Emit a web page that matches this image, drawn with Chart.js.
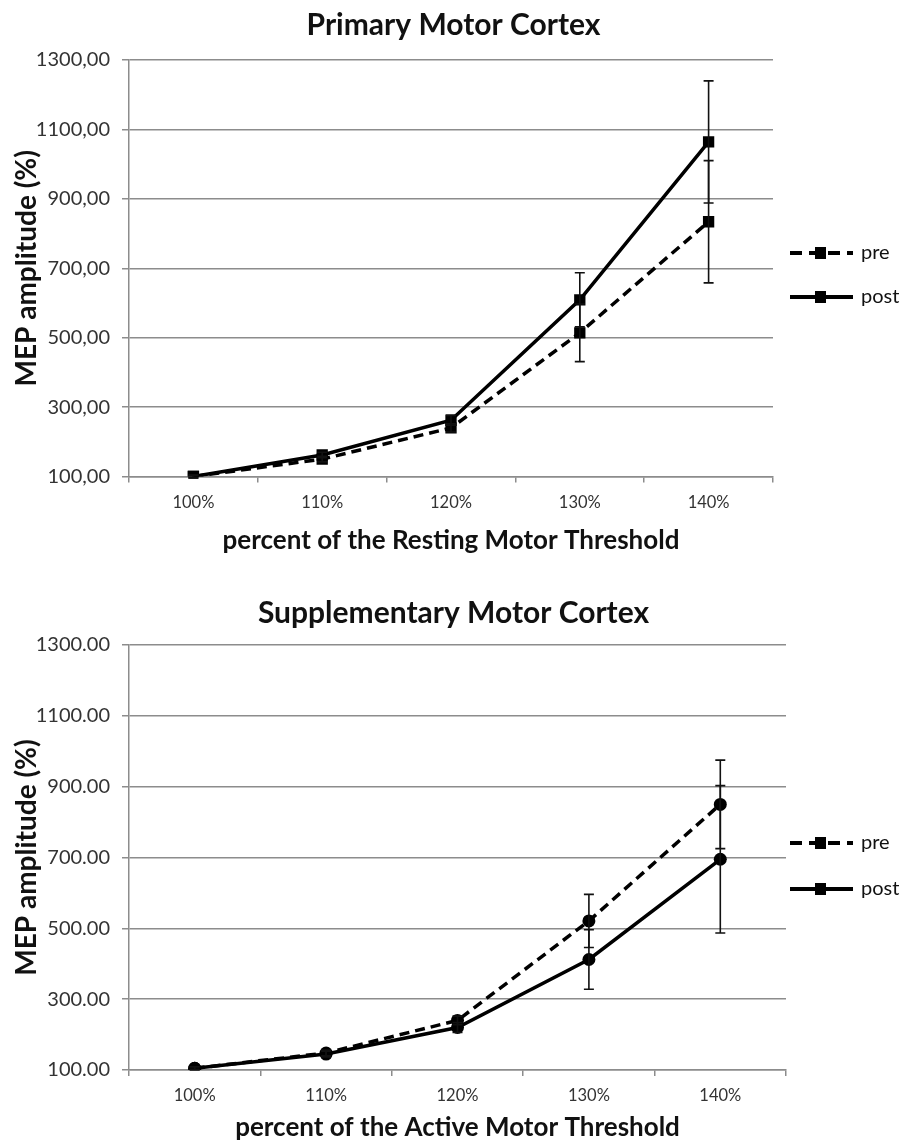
<!DOCTYPE html>
<html>
<head>
<meta charset="utf-8">
<script src="https://cdn.jsdelivr.net/npm/chart.js@4"></script>
<style>
  html, body { margin: 0; padding: 0; background: #fff; overflow: hidden; }
  .box { position: relative; width: 907px; height: 572px; }
</style>
</head>
<body>
<div class="box"><canvas id="primaryChart"></canvas></div>
<div class="box"><canvas id="suppChart"></canvas></div>
<script>
const labels = ['100%', '110%', '120%', '130%', '140%'];

// Primary Motor Cortex
const m1Pre = [100, 150, 240, 514, 834];
const m1PreErr = [4, 8, 12, 83, 176];
const m1Post = [100, 162, 262, 609, 1064];
const m1PostErr = [4, 8, 14, 78, 176];

// Supplementary Motor Cortex
const smaPre = [105, 148, 240, 521, 850];
const smaPreErr = [4, 8, 12, 75, 125];
const smaPost = [105, 145, 220, 412, 695];
const smaPostErr = [4, 8, 14, 84, 208];

const yTicks = [100, 300, 500, 700, 900, 1100, 1300];

const fontFam = "Lato, 'Open Sans', sans-serif";
const gridGray = '#8c8c8c';

// draws the +/- error bars from each dataset's err array
const errorBars = {
    id: 'errorBars',
    afterDatasetsDraw(chart) {
        const ctx = chart.ctx;
        const y = chart.scales.y;
        ctx.save();
        ctx.strokeStyle = '#111';
        ctx.lineWidth = 1.6;
        chart.data.datasets.forEach((ds, i) => {
            const meta = chart.getDatasetMeta(i);
            meta.data.forEach((pt, j) => {
                const v = ds.data[j];
                const e = ds.err[j];
                const top = y.getPixelForValue(v + e);
                const bot = y.getPixelForValue(v - e);
                ctx.beginPath();
                ctx.moveTo(pt.x, top);
                ctx.lineTo(pt.x, bot);
                ctx.moveTo(pt.x - 5, top);
                ctx.lineTo(pt.x + 5, top);
                ctx.moveTo(pt.x - 5, bot);
                ctx.lineTo(pt.x + 5, bot);
                ctx.stroke();
            });
        });
        ctx.restore();
    }
};

// legend on the right: line with square marker, then the label
const sideLegend = {
    id: 'sideLegend',
    afterDraw(chart, args, opts) {
        const ctx = chart.ctx;
        ctx.save();
        chart.data.datasets.forEach((ds, i) => {
            const yy = opts.rows[i];
            ctx.strokeStyle = '#000';
            ctx.lineWidth = 4;
            ctx.setLineDash(ds.borderDash ? [12, 7] : []);
            ctx.beginPath();
            ctx.moveTo(790, yy);
            ctx.lineTo(853, yy);
            ctx.stroke();
            ctx.setLineDash([]);
            ctx.fillStyle = '#000';
            ctx.fillRect(815, yy - 6, 11, 12);
            ctx.font = '20px ' + fontFam;
            ctx.textBaseline = 'middle';
            ctx.fillStyle = '#111';
            ctx.fillText(ds.label, 861, yy);
        });
        ctx.restore();
    }
};

function makeChart(id, cfg) {
    const ctx = document.getElementById(id).getContext('2d');
    return new Chart(ctx, {
        type: 'line',
        data: {
            labels: labels,
            datasets: [{
                label: 'pre',
                data: cfg.pre,
                err: cfg.preErr,
                borderColor: '#000',
                backgroundColor: '#000',
                borderWidth: 3.5,
                borderDash: [10, 6],
                pointStyle: cfg.marker,
                pointRadius: cfg.radius,
                pointBorderWidth: 0,
                fill: false
            }, {
                label: 'post',
                data: cfg.post,
                err: cfg.postErr,
                borderColor: '#000',
                backgroundColor: '#000',
                borderWidth: 3.5,
                pointStyle: cfg.marker,
                pointRadius: cfg.radius,
                pointBorderWidth: 0,
                fill: false
            }]
        },
        options: {
            responsive: true,
            maintainAspectRatio: false,
            animation: false,
            layout: { padding: 0 },
            plugins: {
                legend: { display: false },
                tooltip: { enabled: false },
                title: {
                    display: true,
                    text: cfg.title,
                    color: '#111',
                    font: { family: fontFam, size: 30, weight: 'bold', lineHeight: 1.2 },
                    padding: { top: cfg.titleTop, bottom: cfg.top - cfg.titleTop - 36 }
                },
                sideLegend: { rows: cfg.legendRows }
            },
            scales: {
                x: {
                    offset: true,
                    grid: { display: true, offset: true, drawOnChartArea: false, drawTicks: true, tickLength: 6, color: gridGray, lineWidth: 1.5 },
                    border: { color: gridGray, width: 1.5 },
                    ticks: { color: '#333', font: { family: fontFam, size: 16.5 }, padding: 10, maxRotation: 0 },
                    title: {
                        display: true,
                        text: cfg.xTitle,
                        color: '#111',
                        font: { family: fontFam, size: 26, weight: 'bold', lineHeight: 1.2 },
                        padding: { top: 0, bottom: cfg.xTitleBottom }
                    },
                    afterFit(scale) { scale.height = 572 - cfg.bottom; }
                },
                y: {
                    min: 100,
                    max: 1300,
                    afterBuildTicks(scale) { scale.ticks = yTicks.map(v => ({ value: v })); },
                    grid: { color: gridGray, lineWidth: 1.5, tickLength: 7 },
                    border: { color: gridGray, width: 1.5 },
                    ticks: {
                        color: '#333',
                        font: { family: fontFam, size: 20 },
                        padding: 12,
                        callback: v => cfg.fmt(v)
                    },
                    title: {
                        display: true,
                        text: 'MEP amplitude (%)',
                        color: '#111',
                        font: { family: fontFam, size: 28, weight: 'bold', lineHeight: 1.2 },
                        padding: { top: 10, bottom: 0 }
                    },
                    afterFit(scale) { scale.width = cfg.left; }
                },
                // empty right-hand scale keeps room for the legend
                yRight: {
                    position: 'right',
                    display: true,
                    grid: { display: false },
                    border: { display: false },
                    ticks: { display: false },
                    afterFit(scale) { scale.width = 907 - cfg.right; }
                }
            }
        },
        plugins: [errorBars, sideLegend]
    });
}

makeChart('primaryChart', {
    title: 'Primary Motor Cortex',
    xTitle: 'percent of the Resting Motor Threshold',
    pre: m1Pre, preErr: m1PreErr, post: m1Post, postErr: m1PostErr,
    marker: 'rect', radius: 8,
    fmt: v => v.toFixed(2).replace('.', ','),
    left: 129, right: 773, top: 60, bottom: 476.5,
    titleTop: 7, xTitleBottom: 16,
    legendRows: [253, 297]
});

makeChart('suppChart', {
    title: 'Supplementary Motor Cortex',
    xTitle: 'percent of the Active Motor Threshold',
    pre: smaPre, preErr: smaPreErr, post: smaPost, postErr: smaPostErr,
    marker: 'circle', radius: 6.5,
    fmt: v => v.toFixed(2),
    left: 129, right: 786, top: 73, bottom: 498,
    titleTop: 23, xTitleBottom: 1,
    legendRows: [271, 317]
});
</script>
</body>
</html>
